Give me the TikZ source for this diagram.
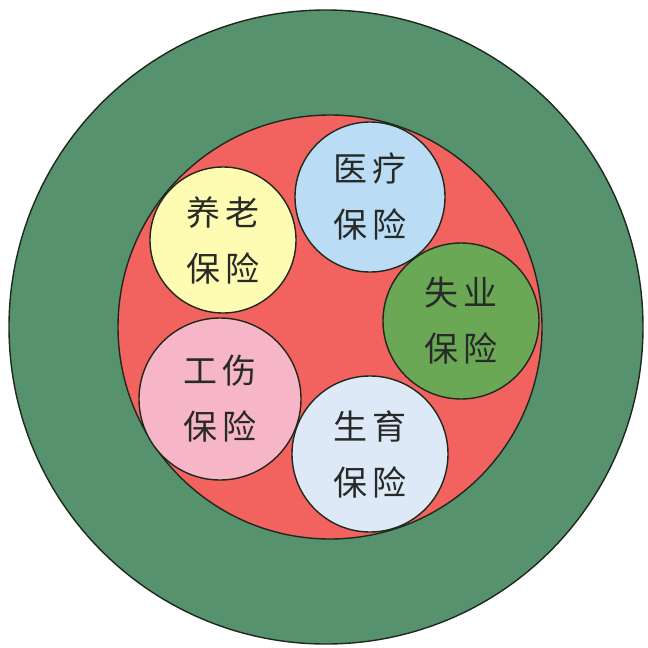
\documentclass[tikz,border=0pt]{standalone}
\usepackage{fontspec}
\newfontfamily\cjk{Noto Sans CJK SC}
\definecolor{outergreen}{RGB}{86,146,110}
\definecolor{innerred}{RGB}{242,98,94}
\definecolor{cyellow}{RGB}{253,252,178}
\definecolor{cblue}{RGB}{186,221,245}
\definecolor{cgreen}{RGB}{106,168,86}
\definecolor{cpink}{RGB}{246,182,200}
\definecolor{clight}{RGB}{222,233,248}
\definecolor{ink}{RGB}{40,42,40}
\definecolor{edge}{RGB}{30,40,28}
\tikzset{
  ring/.style={circle, draw=edge, line width=1.4pt, inner sep=0pt},
  item/.style={ring, align=center, text=ink,
    font=\cjk\fontsize{34}{56}\selectfont},
}
\newcommand{\pair}[2]{#1\kern6pt#2}
\begin{document}
\begin{tikzpicture}[x=1pt,y=-1pt]
\useasboundingbox (0,0) rectangle (648,648);
\fill[white] (0,0) rectangle (648,648);
\node[ring, fill=outergreen, minimum size=634pt] (outer) at (326,327) {};
\node[ring, fill=innerred, minimum size=424pt] (inner) at (330,327) {};
\node[item, fill=cyellow, minimum size=146pt] (yanglao) at (223,240) {\pair{养}{老}\\\pair{保}{险}};
\node[item, fill=cblue, minimum size=150pt] (yiliao) at (370,197) {\pair{医}{疗}\\\pair{保}{险}};
\node[item, fill=cgreen, minimum size=156pt] (shiye) at (461,321) {\pair{失}{业}\\\pair{保}{险}};
\node[item, fill=cpink, minimum size=162pt] (gongshang) at (220,399) {\pair{工}{伤}\\\pair{保}{险}};
\node[item, fill=clight, minimum size=156pt] (shengyu) at (370,454) {\pair{生}{育}\\\pair{保}{险}};
\end{tikzpicture}
\end{document}
